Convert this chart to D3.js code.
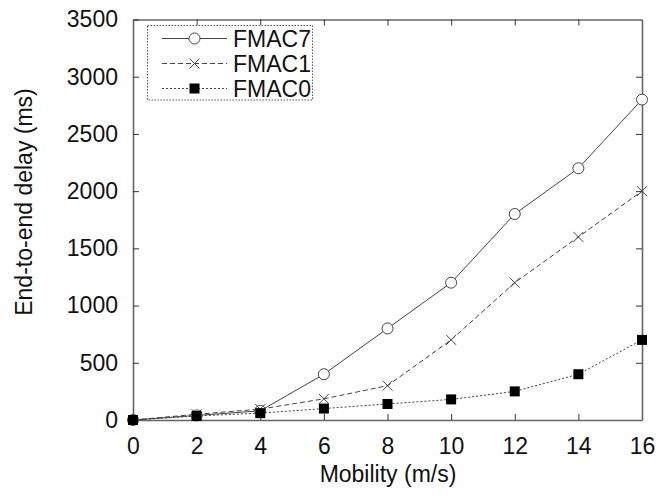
<!DOCTYPE html>
<html>
<head>
<meta charset="utf-8">
<script src="https://cdn.jsdelivr.net/npm/d3@7"></script>
<style>
  html, body { margin: 0; padding: 0; background: #fff; }
  svg { display: block; font-family: "Liberation Sans", Arial, sans-serif; }
</style>
</head>
<body>
<svg id="chart" width="666" height="496"></svg>
<script>
// Mobility values (m/s)
const mobility = [0, 2, 4, 6, 8, 10, 12, 14, 16];
// End-to-end delay (ms) per protocol variant
const fmac7 = [0, 40, 80, 400, 800, 1200, 1800, 2200, 2800];
const fmac1 = [0, 50, 95, 185, 300, 700, 1200, 1600, 2000];
const fmac0 = [0, 35, 60, 100, 140, 180, 250, 400, 700];
const seriesNames = ["FMAC7", "FMAC1", "FMAC0"];
const xTicks = [0, 2, 4, 6, 8, 10, 12, 14, 16];
const yTicks = [0, 500, 1000, 1500, 2000, 2500, 3000, 3500];

const svg = d3.select("#chart");
const plotLeft = 133, plotRight = 642, plotTop = 19.5, plotBottom = 420;

const x = d3.scaleLinear().domain([0, 16]).range([plotLeft, plotRight]);
const y = d3.scaleLinear().domain([0, 3500]).range([plotBottom, plotTop]);

const axisColor = "#666";
const lineColor = "#444";
const fontSize = 23;

const series = [
  { name: seriesNames[0], values: fmac7, dash: null, marker: "circle" },
  { name: seriesNames[1], values: fmac1, dash: "5,3", marker: "cross" },
  { name: seriesNames[2], values: fmac0, dash: "2,2", marker: "square" }
];

// Frame and inward ticks on all four sides
const axes = svg.append("g");
axes.append("g").attr("transform", `translate(0,${plotBottom})`)
  .call(d3.axisBottom(x).tickValues(xTicks).tickSizeInner(-6).tickSizeOuter(0).tickPadding(18).tickFormat(d3.format("d")));
axes.append("g").attr("transform", `translate(0,${plotTop})`)
  .call(d3.axisTop(x).tickValues(xTicks.slice(1, -1)).tickSizeInner(-6).tickSizeOuter(0).tickFormat(""));
axes.append("g").attr("transform", `translate(${plotLeft},0)`)
  .call(d3.axisLeft(y).tickValues(yTicks).tickSizeInner(-6).tickSizeOuter(0).tickPadding(15).tickFormat(d3.format("d")));
axes.append("g").attr("transform", `translate(${plotRight},0)`)
  .call(d3.axisRight(y).tickValues(yTicks.slice(1, -1)).tickSizeInner(-6).tickSizeOuter(0).tickFormat(""));
axes.selectAll(".domain").attr("stroke", axisColor).attr("stroke-width", 1.6);
axes.selectAll(".tick line").attr("stroke", "#333").attr("stroke-width", 1);
axes.selectAll(".tick text").attr("fill", "#111").attr("font-size", fontSize)
  .attr("font-family", "'Liberation Sans', Arial, sans-serif");

// Axis titles
svg.append("text").attr("x", 388).attr("y", 482).attr("text-anchor", "middle")
  .attr("font-size", fontSize).attr("fill", "#111").text("Mobility (m/s)");
svg.append("text").attr("transform", "translate(32,202) rotate(-90)").attr("text-anchor", "middle")
  .attr("font-size", fontSize).attr("fill", "#111").text("End-to-end delay (ms)");

function drawMarker(g, type, cx, cy) {
  if (type === "circle") {
    g.append("circle").attr("cx", cx).attr("cy", cy).attr("r", 5.5)
      .attr("fill", "#fff").attr("stroke", lineColor).attr("stroke-width", 1);
  } else if (type === "cross") {
    const s = 5;
    g.append("path").attr("d", `M${cx - s},${cy - s}L${cx + s},${cy + s}M${cx - s},${cy + s}L${cx + s},${cy - s}`)
      .attr("stroke", lineColor).attr("stroke-width", 1).attr("fill", "none");
  } else {
    g.append("rect").attr("x", cx - 5).attr("y", cy - 5).attr("width", 10).attr("height", 10)
      .attr("fill", "#000");
  }
}

const line = d3.line().x((d, i) => x(mobility[i])).y(d => y(d));
const plot = svg.append("g");
series.forEach(s => {
  plot.append("path").datum(s.values).attr("d", line)
    .attr("fill", "none").attr("stroke", lineColor).attr("stroke-width", 1)
    .attr("stroke-dasharray", s.dash);
});
series.forEach(s => {
  const g = plot.append("g");
  s.values.forEach((v, i) => drawMarker(g, s.marker, x(mobility[i]), y(v)));
});

// Legend
const legend = svg.append("g");
legend.append("rect").attr("x", 147.5).attr("y", 25.5).attr("width", 165).attr("height", 74.5)
  .attr("fill", "#fff").attr("stroke", "#555").attr("stroke-width", 1).attr("stroke-dasharray", "1.5,1.5");
series.forEach((s, i) => {
  const ly = 38.5 + i * 25;
  legend.append("line").attr("x1", 162).attr("x2", 227).attr("y1", ly).attr("y2", ly)
    .attr("stroke", lineColor).attr("stroke-width", 1).attr("stroke-dasharray", s.dash);
  drawMarker(legend, s.marker, 194.5, ly);
  legend.append("text").attr("x", 233).attr("y", ly + 8.5).attr("font-size", fontSize)
    .attr("fill", "#111").text(s.name);
});
</script>
</body>
</html>
